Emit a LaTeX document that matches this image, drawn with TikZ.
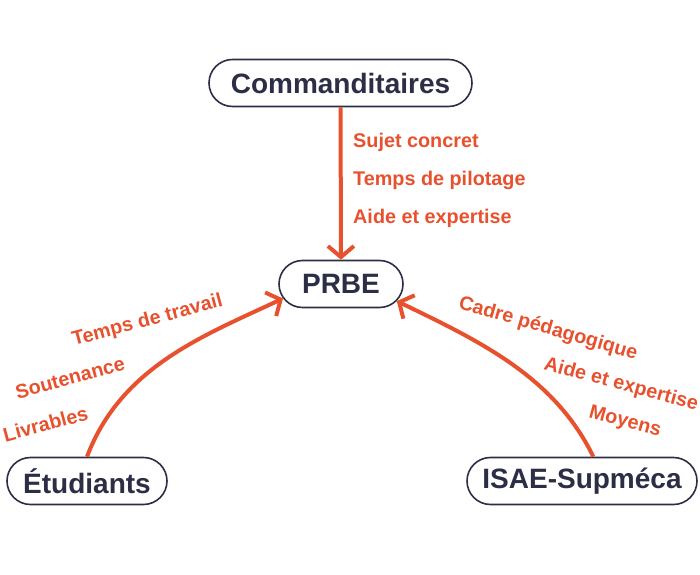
\documentclass[tikz,border=0pt]{standalone}
\usepackage{fontspec}
\setmainfont{Liberation Sans}
\usetikzlibrary{arrows.meta,shapes.misc}
\definecolor{encre}{HTML}{2C2E45}
\definecolor{flux}{HTML}{E8512E}
\begin{document}
\begin{tikzpicture}[>={Straight Barb[length=11bp,width=26bp]},line join=miter,
  acteur/.style={rounded rectangle,draw=encre,line width=1.6bp,fill=white,text=encre,
    minimum height=47bp,inner xsep=0pt,font=\fontsize{28bp}{32bp}\selectfont\bfseries},
  fleche/.style={draw=flux,line width=4bp,->},
  etiquette/.style={text=flux,inner sep=0pt,font=\fontsize{19.8bp}{23bp}\selectfont\bfseries},
]
\useasboundingbox (0bp,0bp) rectangle (700bp,575bp);
%%
\node (node_commanditaires) at (340.5bp,492bp) [acteur,minimum width=263bp] {Commanditaires};
  \node (node_prbe) at (341bp,291bp) [acteur,minimum width=124bp] {PRBE};
  \node (node_etudiants) at (87bp,94bp) [acteur,minimum width=160bp] {Étudiants};
  \node (node_isae) at (582bp,94bp) [acteur,minimum width=230bp] {ISAE-Supméca};
%
\node (label_0) at (353bp,433bp) [etiquette,anchor=west] {Sujet concret};
  \node (label_1) at (353bp,395bp) [etiquette,anchor=west] {Temps de pilotage};
  \node (label_2) at (353bp,357bp) [etiquette,anchor=west] {Aide et expertise};
  \node (label_3) at (147.5bp,254bp) [etiquette,rotate=15] {Temps de travail};
  \node (label_4) at (70bp,197bp) [etiquette,rotate=15] {Soutenance};
  \node (label_5) at (45.5bp,151bp) [etiquette,rotate=15] {Livrables};
  \node (label_6) at (548bp,246bp) [etiquette,rotate=-16] {Cadre pédagogique};
  \node (label_7) at (621bp,190bp) [etiquette,rotate=-15] {Aide et expertise};
  \node (label_8) at (625bp,153bp) [etiquette,rotate=-15] {Moyens};
%
  \draw [fleche] (node_commanditaires) -- (node_prbe);
  \draw [fleche] (node_etudiants.north) ..controls (121bp,208bp) and (203bp,239bp)  .. (node_prbe.194);
  \draw [fleche] (node_isae.65) ..controls (554bp,199bp) and (479bp,234bp)  .. (node_prbe.-17);
%
\end{tikzpicture}
\end{document}
